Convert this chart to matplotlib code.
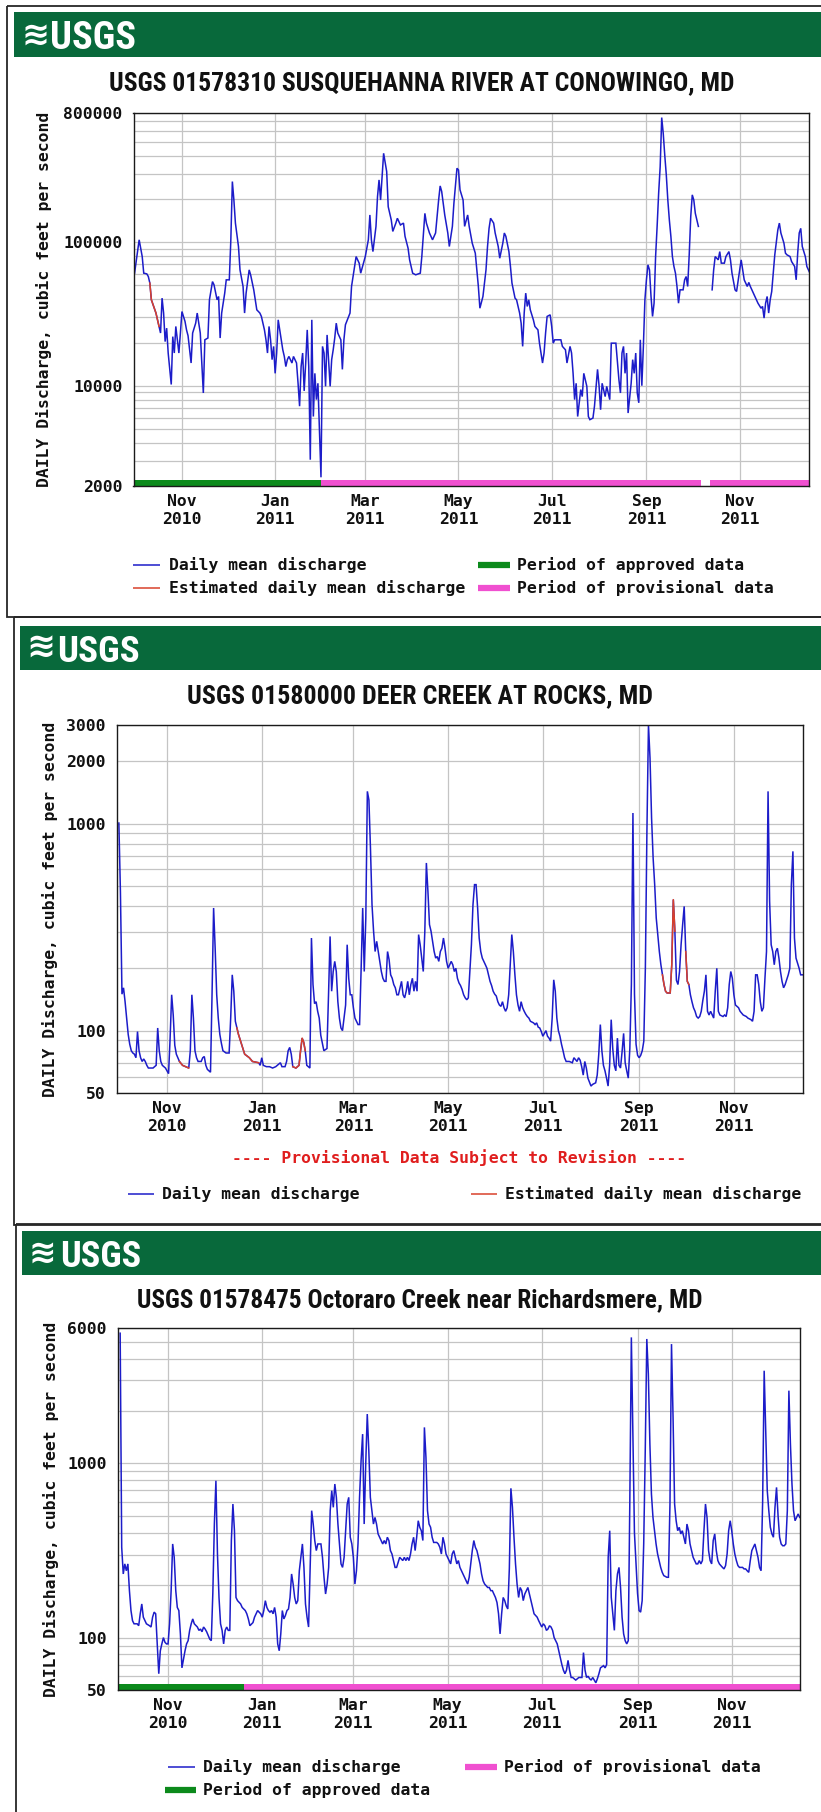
import datetime as dt
import re
import numpy as np
import matplotlib
matplotlib.use("Agg")
import matplotlib.pyplot as plt
import matplotlib.dates as mdates
from matplotlib.patches import Rectangle
from matplotlib import font_manager as fm
from matplotlib.ticker import FixedLocator, FixedFormatter, LogLocator, NullFormatter

# ---------------- data (day offset from 2010-10-01, daily mean discharge cfs) ----------------
sus_points = [(0,60900),(3,104000),(4,90900),(5,79500),(6,60900),(8,60200),(9,57700),(10,51900),(11,39700),(14,32100),
(16,25900),(17,23300),(18,40800),(19,32100),(20,20300),(21,25200),(22,16900),(24,10200),(25,22000),(26,16900),
(27,25900),(29,16900),(30,23300),(31,32900),(33,28100),(34,24500),(35,22300),(37,14400),(38,23300),(40,27300),
(41,32100),(43,23300),(44,14400),(45,8900),(46,20900),(48,21500),(49,39700),(51,53200),(52,50500),(54,39700),
(55,41900),(56,21500),(57,32100),(59,44200),(60,54700),(62,54700),(63,104000),(64,265000),(65,197000),(66,136000),
(68,93400),(69,64200),(71,49200),(72,32100),(73,44200),(75,64200),(76,59000),(78,46600),(79,39700),(80,33800),
(82,32100),(83,30400),(85,24500),(86,20900),(87,16900),(88,25900),(89,20900),(90,15200),(91,18800),(92,12200),
(93,16900),(94,28800),(96,20900),(97,17800),(98,16000),(99,13600),(100,15200),(101,16000),(103,14400),(104,16000),
(106,14400),(107,10400),(108,7200),(109,13600),(110,16900),(111,9200),(112,14400),(113,24500),(114,13600),(115,3050),
(116,28800),(117,6100),(118,12200),(119,8000),(120,10400),(121,4900),(122,2300),(123,18800),(124,16900),(125,9900),
(126,22600),(128,9900),(129,15200),(130,17800),(131,21500),(132,27300),(133,23300),(135,20900),(136,13000),(137,20900),
(138,26600),(141,32100),(142,49200),(143,57700),(145,79500),(147,71500),(148,60900),(151,79500),(153,104000),(154,155000),
(155,104000),(156,86100),(158,129000),(159,208000),(160,272000),(161,197000),(162,287000),(163,417000),(165,311000),(166,177000),
(168,143000),(169,119000),(171,136000),(172,147000),(174,132000),(176,136000),(177,110000),(179,90900),(180,75400),(182,60900),
(184,59300),(187,60900),(188,79500),(190,159000),(191,136000),(193,116000),(195,104000),(197,116000),(199,197000),(200,247000),
(201,226000),(203,155000),(205,116000),(206,93400),(208,129000),(209,187000),(211,328000),(212,319000),(213,232000),(215,197000),
(216,129000),(218,155000),(219,129000),(221,98500),(223,83900),(224,64200),(225,49200),(226,34700),(228,41900),(229,51900),
(230,64200),(231,93400),(232,125000),(233,147000),(235,136000),(236,116000),(238,93400),(239,77400),(241,98500),(242,116000),
(243,110000),(245,86100),(246,67800),(247,51900),(249,40800),(250,39700),(252,32100),(253,27300),(254,18800),(255,32100),
(256,44200),(257,35700),(258,39700),(259,33800),(261,28800),(262,25900),(264,24500),(265,19800),(267,14400),(268,16900),
(269,23300),(270,30400),(272,31200),(273,25900),(274,19800),(275,20900),(277,20900),(279,20900),(280,18800),(282,17800),
(283,14400),(285,18800),(286,16900),(287,12200),(288,8000),(289,10400),(290,6100),(292,9400),(293,8400),(294,12200),
(296,9900),(297,6100),(298,5800),(300,5950),(301,7200),(303,13000),(304,10000),(305,6800),(306,10400),(308,8400),
(309,9900),(311,8000),(312,19800),(314,19800),(315,19800),(317,11000),(318,8900),(319,16900),(320,18800),(321,12200),
(322,16900),(323,6450),(325,10400),(326,15200),(327,12200),(328,16900),(329,8900),(330,7600),(331,20900),(332,10000),
(333,18800),(334,39700),(335,54700),(336,69600),(337,64200),(338,41900),(339,30400),(340,37600),(341,79500),(342,129000),
(343,220000),(344,337000),(345,740000),(346,574000),(347,404000),(348,295000),(349,197000),(350,143000),(351,110000),(352,79500),
(353,67800),(354,60900),(355,49200),(356,37600),(357,46600),(359,46600),(360,54700),(361,57700),(362,49200),(363,81700),
(364,151000),(365,214000),(366,197000),(367,159000),(369,129000),(373,np.nan),(378,46600),(379,64200),(380,79500),(382,75400),
(383,86100),(384,71500),(386,71500),(387,79500),(389,86100),(390,75400),(391,60900),(393,46600),(394,45400),(396,64200),
(397,75400),(398,64200),(399,54700),(401,49200),(402,52500),(403,49200),(405,44200),(406,41900),(407,39700),(408,37600),
(410,34700),(411,35700),(412,29600),(413,37600),(414,41900),(415,32100),(416,39700),(417,45400),(418,60900),(419,81700),
(421,122000),(422,136000),(423,116000),(425,98500),(426,83900),(427,81700),(429,79500),(430,73400),(432,67800),(433,54700),
(434,83900),(435,116000),(436,125000),(437,93400),(439,79500),(440,67800),(442,60900)]
sus_estimated = [(10, 16)]
sus_approved = [(-1, 122)]
sus_provisional = [(122, 370.4), (376.3, 443)]

deer_points = [(0,1005),(1,470),(2,150),(3,161),(4,138),(5,115),(6,96),(7,86),(8,80),(9,78),(10,77),(11,74),(12,99),(13,80),
(14,74),(15,71),(16,73),(17,71),(18,68),(19,66),(22,66),(24,68),(25,103),(26,80),(27,71),(28,68),(30,66),(31,64),(32,62),
(33,92),(34,149),(35,119),(36,85),(37,77),(38,74),(39,71),(41,68),(43,67),(45,66),(46,80),(47,149),(48,115),(49,80),(50,74),
(51,71),(53,71),(54,74),(55,75),(56,68),(57,65),(59,63),(60,150),(61,391),(62,250),(63,149),(64,115),(65,96),(66,87),(67,80),
(69,78),(71,78),(72,115),(73,186),(74,155),(75,111),(76,103),(77,96),(79,86),(81,77),(84,74),(86,71),(90,70),(91,68),(92,74),
(93,68),(95,67),(97,67),(99,66),(101,67),(104,70),(105,67),(107,67),(108,71),(109,80),(110,83),(111,77),(112,67),(114,66),
(116,68),(117,80),(118,92),(119,88),(120,80),(121,68),(122,67),(123,66),(124,280),(125,167),(126,135),(127,138),(128,124),
(129,115),(130,95),(132,80),(134,82),(135,149),(136,285),(137,155),(138,193),(139,216),(140,193),(141,138),(142,115),(143,103),
(144,100),(146,133),(147,260),(148,179),(149,149),(150,149),(151,129),(152,115),(154,107),(155,107),(156,200),(157,391),
(158,193),(159,350),(160,1430),(161,1300),(162,760),(163,405),(164,302),(165,241),(166,270),(167,241),(168,216),(169,193),
(170,179),(171,173),(172,173),(173,241),(174,220),(175,186),(176,179),(177,167),(178,161),(179,149),(180,149),(181,161),
(182,173),(183,149),(184,144),(185,155),(186,173),(187,149),(188,167),(189,179),(190,155),(191,173),(192,155),(193,291),
(194,260),(195,224),(196,193),(197,302),(198,645),(199,470),(200,325),(201,302),(202,270),(203,241),(204,224),(205,228),
(206,216),(207,241),(208,250),(209,280),(210,250),(211,216),(212,200),(213,208),(214,216),(215,208),(216,193),(217,200),
(218,179),(219,170),(220,165),(221,158),(222,149),(223,144),(224,141),(225,144),(226,193),(227,260),(228,405),(229,507),
(230,507),(231,391),(232,280),(233,241),(234,224),(235,216),(236,208),(237,200),(238,186),(239,173),(240,165),(241,155),
(242,150),(243,147),(244,138),(245,133),(246,131),(247,138),(248,129),(249,124),(250,129),(251,149),(252,208),(253,291),
(254,241),(255,186),(256,149),(257,133),(258,124),(259,138),(260,129),(261,124),(262,120),(263,117),(264,115),(265,111),
(266,110),(267,109),(268,107),(269,109),(270,104),(271,103),(272,99),(273,94),(274,97),(275,100),(276,94),(277,92),(278,89),
(279,115),(280,176),(281,155),(282,115),(283,100),(284,94),(285,86),(286,80),(287,74),(288,71),(290,71),(292,70),(293,74),
(295,71),(296,74),(297,72),(298,67),(299,61),(300,71),(301,66),(302,59),(304,54),(305,55),(307,56),(308,61),(309,77),
(310,107),(311,80),(312,68),(313,64),(314,59),(315,54),(316,68),(317,113),(318,82),(319,68),(320,64),(321,92),(322,68),
(323,66),(324,79),(325,97),(326,70),(327,64),(328,59),(329,82),(330,167),(331,1124),(332,150),(333,86),(334,76),(335,74),
(336,76),(337,80),(338,89),(339,200),(340,916),(341,3000),(342,2070),(343,1064),(344,681),(345,507),(346,350),(347,291),
(348,241),(349,208),(350,186),(351,167),(352,155),(353,152),(355,152),(356,208),(357,429),(358,302),(359,175),(360,167),
(361,193),(362,260),(363,325),(364,398),(365,241),(366,173),(367,167),(368,149),(369,138),(370,129),(371,124),(372,117),
(373,115),(374,117),(375,124),(376,140),(377,155),(378,186),(379,124),(380,119),(381,124),(383,115),(384,155),(385,200),
(386,124),(387,119),(389,117),(390,119),(391,117),(392,129),(393,167),(394,193),(395,179),(396,149),(397,133),(399,129),
(400,124),(402,119),(404,117),(405,115),(407,113),(408,111),(409,124),(410,186),(411,186),(412,167),(413,138),(414,124),
(415,129),(416,179),(417,241),(418,1430),(419,421),(420,260),(421,241),(422,208),(423,241),(424,250),(425,224),(426,193),
(427,173),(428,161),(429,167),(431,186),(432,200),(433,507),(434,734),(435,280),(436,224),(438,200),(439,186),(440,186)]
deer_estimated = [(39, 45), (76, 90), (112, 120), (350, 358), (365, 367)]

oct_points = [(0,5600),(1,330),(2,232),(3,265),(4,242),(5,265),(6,186),(7,143),(8,125),(9,120),(11,120),(12,117),(13,137),
(14,156),(15,131),(17,120),(19,117),(20,115),(21,131),(22,140),(23,137),(24,92),(25,62),(26,84),(27,92),(28,100),(29,94),
(30,92),(31,92),(32,120),(33,186),(34,345),(35,289),(36,186),(37,149),(38,143),(39,105),(40,67),(42,84),(43,92),(44,96),
(45,110),(46,120),(47,128),(48,120),(50,115),(51,110),(52,112),(53,108),(54,115),(55,112),(56,108),(57,103),(58,98),(59,96),
(60,180),(61,449),(62,796),(63,302),(64,170),(65,120),(66,110),(67,92),(68,110),(69,115),(70,110),(71,110),(72,361),(73,585),
(74,411),(75,170),(76,163),(78,156),(79,149),(81,143),(82,137),(83,128),(84,117),(86,122),(87,131),(88,137),(89,143),(91,137),
(92,131),(93,143),(94,163),(95,149),(96,143),(97,140),(98,143),(99,137),(100,149),(101,131),(102,92),(103,84),(104,105),
(105,143),(106,128),(107,134),(108,143),(109,146),(110,170),(111,232),(112,203),(113,170),(114,156),(115,163),(116,242),
(117,289),(118,345),(119,253),(120,156),(121,131),(122,115),(123,242),(124,536),(125,449),(126,361),(127,316),(128,345),
(129,345),(130,345),(131,289),(132,222),(133,178),(134,203),(135,253),(136,536),(137,698),(138,560),(139,762),(140,639),
(141,449),(142,345),(143,265),(144,253),(145,289),(146,411),(147,585),(148,639),(149,377),(150,345),(151,289),(152,203),
(153,242),(154,345),(155,639),(156,1038),(157,1475),(158,449),(159,993),(160,1923),(161,1185),(162,639),(163,536),(164,449),
(165,490),(166,449),(167,394),(168,377),(170,345),(171,361),(172,345),(173,377),(174,361),(175,316),(176,302),(177,277),
(178,253),(179,253),(180,271),(181,289),(183,277),(184,289),(185,277),(186,289),(187,277),(188,302),(189,345),(190,377),
(191,316),(192,377),(193,469),(194,430),(195,411),(196,361),(197,1612),(198,1085),(199,536),(200,449),(201,430),(202,377),
(203,352),(204,352),(205,352),(206,345),(207,330),(208,302),(209,377),(210,345),(211,302),(212,289),(213,277),(214,265),
(215,302),(216,316),(217,289),(218,265),(219,277),(220,253),(221,242),(222,232),(223,222),(224,212),(225,203),(226,222),
(227,265),(228,316),(229,361),(230,330),(231,316),(232,289),(233,265),(234,232),(235,212),(236,203),(238,194),(239,194),
(240,186),(241,186),(242,178),(243,170),(244,159),(245,137),(246,105),(247,137),(248,170),(249,163),(250,152),(251,146),
(252,250),(253,720),(254,560),(255,377),(256,265),(257,203),(258,170),(259,194),(260,186),(261,163),(262,178),(263,186),
(264,194),(265,178),(266,163),(267,149),(268,137),(269,134),(270,131),(271,125),(272,120),(273,115),(274,120),(275,117),
(276,110),(277,112),(278,117),(279,115),(280,110),(281,100),(282,96),(283,92),(284,84),(285,77),(286,70),(287,65),(288,62),
(289,65),(290,74),(291,65),(292,59),(293,59),(294,58),(295,57),(296,58),(297,59),(299,59),(300,82),(301,65),(302,59),
(303,60),(304,58),(305,57),(306,59),(307,57),(308,55),(309,58),(310,62),(311,67),(313,69),(314,67),(315,70),(316,289),
(317,411),(318,170),(319,137),(320,110),(321,186),(322,232),(323,253),(324,194),(325,131),(326,105),(327,96),(328,92),
(329,96),(330,600),(331,5300),(332,1412),(333,400),(334,265),(335,180),(336,143),(337,140),(338,163),(339,345),(340,1185),
(341,5190),(342,3265),(343,1294),(344,668),(345,490),(346,411),(347,345),(348,302),(349,277),(350,253),(351,237),(352,227),
(354,222),(355,222),(356,585),(357,4850),(358,1840),(359,585),(360,469),(361,411),(362,430),(363,394),(364,411),(365,377),
(366,345),(367,449),(368,411),(369,345),(370,316),(371,289),(372,277),(373,265),(374,265),(375,277),(376,265),(377,277),
(378,411),(379,585),(380,490),(381,316),(382,277),(383,265),(384,361),(385,394),(386,316),(387,277),(388,265),(389,259),
(390,253),(391,248),(392,259),(393,302),(394,411),(395,469),(396,411),(397,345),(398,302),(399,277),(400,259),(401,253),
(403,253),(404,248),(405,248),(406,242),(407,237),(408,277),(409,316),(410,330),(411,345),(412,316),(413,289),(414,253),
(415,242),(416,600),(417,3410),(418,1542),(419,698),(420,536),(421,430),(422,394),(423,377),(424,560),(425,729),(426,500),
(427,377),(428,345),(429,337),(430,337),(431,345),(432,536),(433,2620),(434,1294),(435,762),(436,536),(437,469),(438,490),
(439,513),(440,490)]
oct_approved = [(-2, 80)]
oct_provisional = [(80, 443)]

titles = ["USGS 01578310 SUSQUEHANNA RIVER AT CONOWINGO, MD",
          "USGS 01580000 DEER CREEK AT ROCKS, MD",
          "USGS 01578475 Octoraro Creek near Richardsmere, MD"]
ylabel_text = "DAILY Discharge, cubic feet per second"
yticks_list = [[2000, 10000, 100000, 800000], [50, 100, 1000, 2000, 3000], [50, 100, 1000, 6000]]
ylims = [(2000, 800000), (50, 3000), (50, 6000)]

# ---------------- styling ----------------
W, H = 821, 1812
BLUE = "#1c1cc9"
RED = "#d9412b"
GREEN = "#0c8a1c"
MAGENTA = "#f050d0"
HEADER = "#08693b"
GRID = "#c4c4c4"

plt.rcParams['font.family'] = ['DejaVu Sans Mono']
plt.rcParams['font.weight'] = 'bold'
plt.rcParams['font.size'] = 11.8


def find_condensed_bold():
    """Look for an installed bold condensed / narrow sans font file."""
    prefs = ['liberationsansnarrow-bold', 'robotocondensed-bold', 'opensanscondensed-bold',
             'opensans_condensed-bold', 'notosans-condensedbold', 'dejavusanscondensed-bold']
    files = [f.fname for f in fm.fontManager.ttflist]
    low = {p: p.lower().replace(' ', '') for p in files}
    for pref in prefs:
        for p, l in low.items():
            base = l.rsplit('/', 1)[-1]
            if base.startswith(pref) and 'italic' not in base and 'oblique' not in base:
                return fm.FontProperties(fname=p)
    for p, l in low.items():
        base = l.rsplit('/', 1)[-1]
        if re.search(r'(condensed|narrow)', base) and 'bold' in base and 'italic' not in base \
                and 'oblique' not in base and 'extra' not in base and 'semi' not in base and 'mono' not in base:
            return fm.FontProperties(fname=p)
    for f in fm.fontManager.ttflist:
        if str(f.stretch) in ('condensed', 'semi-condensed') and f.weight in (700, 'bold') and f.style == 'normal':
            return fm.FontProperties(fname=f.fname)
    return fm.FontProperties(family='Liberation Sans', weight='bold')


TITLE_FP = find_condensed_bold()
ICON_FP = fm.FontProperties(family='DejaVu Sans', weight='bold')

START = dt.datetime(2010, 10, 1)
T0 = mdates.date2num(START)

fig = plt.figure(figsize=(W / 100, H / 100), dpi=100)
fig.patch.set_facecolor('white')
bg = fig.add_axes([0, 0, 1, 1])
bg.set_xlim(0, W)
bg.set_ylim(H, 0)
bg.axis('off')
renderer = fig.canvas.get_renderer()


def fit_text(x0, x1, yb, s, fp, color):
    fp = fp.copy()
    fp.set_size(20)
    t = bg.text(x0, yb, s, fontproperties=fp, color=color, ha='left', va='baseline')
    for _ in range(3):
        w = t.get_window_extent(renderer).width
        t.set_fontsize(t.get_fontsize() * (x1 - x0) / w)
    return t


layout = [
    dict(box=(7, 5.5, 617), head=(14, 12, 56.5), icon=(21, 49), usgs=(50, 136, 49), title=(109, 734, 90),
         ax=(133.5, 809, 112.7, 486), xr=(-0.7, 441.4), ylab=(44, 299)),
    dict(box=(14, 617, 1225), head=(20, 626, 670), icon=(26, 55), usgs=(57.6, 140.3, 662), title=(187, 654, 703),
         ax=(117, 803, 724.7, 1093), xr=(-1.2, 440.5), ylab=(50, 909)),
    dict(box=(16, 1224, 1840), head=(22, 1231, 1275), icon=(29, 56.5), usgs=(60, 141, 1267), title=(137, 703, 1307),
         ax=(118, 800, 1328, 1690), xr=(-1.4, 440.2), ylab=(51, 1509)),
]

series = [(sus_points, sus_estimated, sus_approved, sus_provisional),
          (deer_points, deer_estimated, [], []),
          (oct_points, [], oct_approved, oct_provisional)]

for i, L in enumerate(layout):
    bx, by0, by1 = L['box']
    bg.add_patch(Rectangle((bx, by0), 840 - bx, by1 - by0, fill=False, ec='#262626', lw=1.3, zorder=1))
    hx, hy0, hy1 = L['head']
    bg.add_patch(Rectangle((hx, hy0), 840 - hx, hy1 - hy0, fc=HEADER, ec='none', zorder=2))
    ix0, ix1 = L['icon']
    ux0, ux1, ub = L['usgs']
    fit_text(ix0, ix1, ub - 4, "\u224b", ICON_FP, 'white')
    fit_text(ux0, ux1, ub, "USGS", TITLE_FP, 'white')
    tx0, tx1, tb = L['title']
    fit_text(tx0, tx1, tb, titles[i], TITLE_FP, '#111111')
    lx, ly = L['ylab']
    bg.text(lx, ly, ylabel_text, rotation=90, ha='center', va='center', color='#111111')

    x0, x1, y0, y1 = L['ax']
    ax = fig.add_axes([x0 / W, 1 - y1 / H, (x1 - x0) / W, (y1 - y0) / H])
    ax.set_facecolor('white')
    pts, est, appr, prov = series[i]
    days = np.array([p[0] for p in pts], dtype=float)
    vals = np.array([p[1] for p in pts], dtype=float)
    xd = T0 + days
    ax.plot(xd, vals, color=BLUE, lw=1.1, zorder=3, solid_joinstyle='miter')
    for a, b in est:
        m = (days >= a) & (days <= b)
        ax.plot(xd[m], vals[m], color=RED, lw=1.1, zorder=4)
    for a, b in appr:
        ax.axvspan(T0 + a, T0 + b, ymin=0, ymax=6 / (y1 - y0), color=GREEN, lw=0, zorder=5)
    for a, b in prov:
        ax.axvspan(T0 + a, T0 + b, ymin=0, ymax=6 / (y1 - y0), color=MAGENTA, lw=0, zorder=5)

    ax.set_yscale('log')
    ax.set_ylim(*ylims[i])
    ax.set_xlim(T0 + L['xr'][0], T0 + L['xr'][1])
    yt = yticks_list[i]
    ax.yaxis.set_major_locator(FixedLocator(yt))
    ax.yaxis.set_major_formatter(FixedFormatter([str(v) for v in yt]))
    ax.yaxis.set_minor_locator(LogLocator(base=10, subs=np.arange(2, 10), numticks=100))
    ax.yaxis.set_minor_formatter(NullFormatter())
    ax.xaxis.set_major_locator(mdates.MonthLocator(bymonth=[1, 3, 5, 7, 9, 11]))
    ax.xaxis.set_major_formatter(mdates.DateFormatter('%b\n%Y'))
    ax.grid(True, which='both', axis='y', color=GRID, lw=0.9)
    ax.grid(True, which='major', axis='x', color=GRID, lw=0.9)
    ax.set_axisbelow(True)
    ax.tick_params(axis='both', which='both', length=0, colors='#111111')
    ax.tick_params(axis='y', pad=8)
    ax.tick_params(axis='x', pad=6)
    for sp in ax.spines.values():
        sp.set_color('#1a1a1a')
        sp.set_linewidth(1.0)
        sp.set_zorder(6)


def legend_line(x0, x1, y, color, lw):
    bg.plot([x0, x1], [y, y], color=color, lw=lw, solid_capstyle='butt', zorder=3)


def legend_text(x, y, s, color='#111111'):
    bg.text(x, y, s, ha='left', va='center', color=color)


# panel 1 legend
legend_line(133, 160, 565, BLUE, 1.1)
legend_text(168.6, 565, "Daily mean discharge")
legend_line(133, 160, 588, RED, 1.1)
legend_text(168.6, 588, "Estimated daily mean discharge")
legend_line(478, 510, 565, GREEN, 4.5)
legend_text(517, 565, "Period of approved data")
legend_line(478, 510, 588, MAGENTA, 4.5)
legend_text(517, 588, "Period of provisional data")

# panel 2 notes and legend
bg.text(459.5, 1158, "---- Provisional Data Subject to Revision ----", ha='center', va='center', color='#e01e1e')
legend_line(128, 154, 1194.4, BLUE, 1.1)
legend_text(162, 1194.4, "Daily mean discharge")
legend_line(471, 497, 1194.4, RED, 1.1)
legend_text(505, 1194.4, "Estimated daily mean discharge")

# panel 3 legend
legend_line(167.5, 195, 1767.4, BLUE, 1.1)
legend_text(203, 1767.4, "Daily mean discharge")
legend_line(465, 497, 1767.4, MAGENTA, 4.5)
legend_text(504, 1767.4, "Period of provisional data")
legend_line(165, 196, 1790, GREEN, 4.5)
legend_text(203, 1790, "Period of approved data")

fig.savefig("out.png", dpi=100, facecolor='white')
